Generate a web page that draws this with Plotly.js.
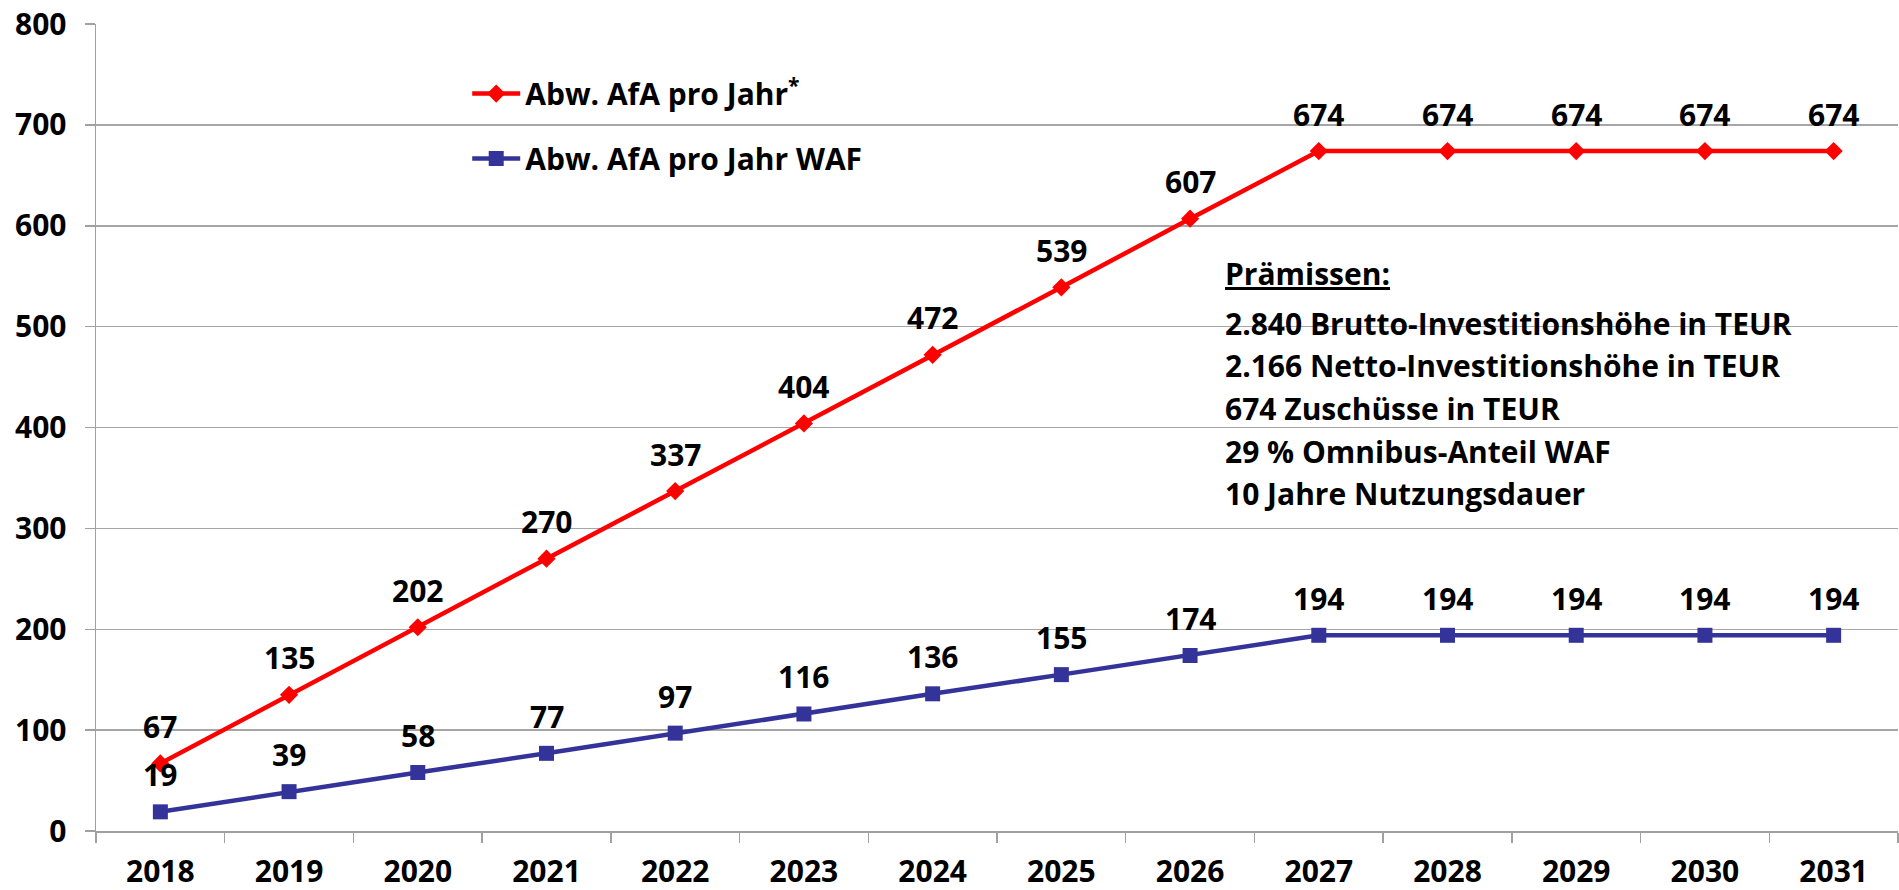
<!DOCTYPE html>
<html>
<head>
<meta charset="utf-8">
<script src="https://cdn.plot.ly/plotly-3.0.1.min.js"></script>
<style>html,body{margin:0;padding:0;background:#fff;}#chart{width:1899px;height:890px;}</style>
</head>
<body>
<div id="chart"></div>
<script>
const years = ['2018','2019','2020','2021','2022','2023','2024','2025','2026','2027','2028','2029','2030','2031'];
const afaTotal = [67,135,202,270,337,404,472,539,607,674,674,674,674,674];
const afaWAF = [19,39,58,77,97,116,136,155,174,194,194,194,194,194];
const seriesNames = ['Abw. AfA pro Jahr<sup>*</sup>', 'Abw. AfA pro Jahr WAF'];
const yTicks = [0,100,200,300,400,500,600,700,800];
const premises = [
  '<u>Prämissen:</u>',
  '2.840 Brutto-Investitionshöhe in TEUR',
  '2.166 Netto-Investitionshöhe in TEUR',
  '674 Zuschüsse in TEUR',
  '29 % Omnibus-Anteil WAF',
  '10 Jahre Nutzungsdauer'
];

const FONT = '"Open Sans", Lato, sans-serif';
const FS = 30;
const RED = '#FF0000';
const BLUE = '#333399';

const traces = [
  {x: years, y: afaTotal, name: seriesNames[0], type: 'scatter', mode: 'lines+markers',
   legendgroup: 'a', line: {color: RED, width: 4.5}, marker: {symbol: 'diamond', size: 14, color: RED}},
  {x: years, y: afaWAF, name: seriesNames[1], type: 'scatter', mode: 'lines+markers',
   legendgroup: 'b', line: {color: BLUE, width: 4.5}, marker: {symbol: 'square', size: 15, color: BLUE}}
];

const annotations = [];
[afaTotal, afaWAF].forEach(arr => {
  arr.forEach((v, i) => {
    // category axis: annotation x is the category index
    annotations.push({x: i, y: v, xref: 'x', yref: 'y', text: String(v), showarrow: false,
      yshift: 37, yanchor: 'middle', font: {family: FONT, size: FS, color: '#000', weight: 700}});
  });
});
premises.forEach((t, i) => {
  annotations.push({x: 0.6255, y: (i === 0 ? 0.691 : 0.682 - i * 0.0528), xref: 'paper', yref: 'paper', text: t,
    showarrow: false, xanchor: 'left', yanchor: 'middle', align: 'left',
    font: {family: FONT, size: FS, color: '#000', weight: 700}});
});

const layout = {
  width: 1899, height: 890,
  margin: {l: 96, r: 1, t: 24, b: 59},
  paper_bgcolor: '#fff', plot_bgcolor: '#fff',
  font: {family: FONT, size: FS, color: '#000', weight: 700},
  showlegend: true,
  legend: {x: 0.206, y: 0.946, xanchor: 'left', yanchor: 'top', bgcolor: 'rgba(0,0,0,0)',
    tracegroupgap: 23, itemwidth: 48, font: {family: FONT, size: FS, color: '#000', weight: 700}},
  xaxis: {type: 'category', range: [-0.5, 13.5], showgrid: false, showline: true, linecolor: '#A0A0A0', linewidth: 1.5,
    ticks: 'outside', tickson: 'boundaries', ticklen: 10, tickcolor: '#A0A0A0', tickwidth: 1.5,
    ticklabelstandoff: 13, tickangle: 0, tickfont: {family: FONT, size: FS, color: '#000', weight: 700},
    zeroline: false, fixedrange: true},
  yaxis: {range: [0, 800], tickvals: yTicks, ticktext: yTicks.map(String), showgrid: true,
    gridcolor: '#A6A6A6', gridwidth: 1.5, showline: true, linecolor: '#A0A0A0', linewidth: 1.5,
    ticks: 'outside', ticklen: 10, tickcolor: '#A0A0A0', tickwidth: 1.5, ticklabelstandoff: 12,
    tickfont: {family: FONT, size: FS, color: '#000', weight: 700}, zeroline: false, fixedrange: true},
  shapes: [{type: 'rect', xref: 'paper', yref: 'paper', x0: 0.615, x1: 1.0, y0: 0.368, y1: 0.715,
    fillcolor: '#fff', line: {width: 0}, layer: 'between'}],
  annotations: annotations
};

Plotly.newPlot('chart', traces, layout, {displayModeBar: false, staticPlot: true});
</script>
</body>
</html>
